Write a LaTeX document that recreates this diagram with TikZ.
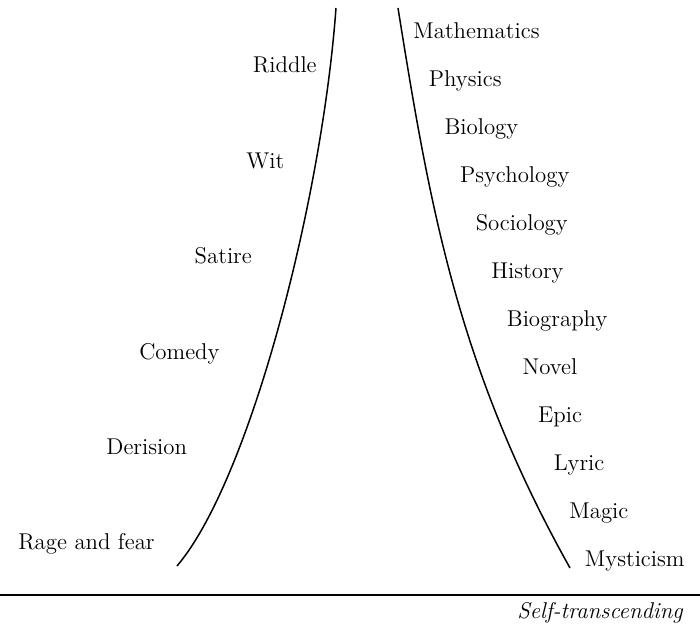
\documentclass[tikz,border=0pt]{standalone}
\usepackage{tikz}
\usetikzlibrary{positioning,calc}

\begin{document}
\begin{tikzpicture}[x=0.02cm, y=-0.02cm, font=\fontsize{13}{15}\selectfont]
\useasboundingbox (0,0) rectangle (700,634);
\coordinate (lb) at (177,566);
\coordinate (lt) at (336,8);
\coordinate (rt) at (398,8);
\coordinate (rb) at (570,568);
\draw[line width=0.85pt] (lb) .. controls (250,480) and (322,200) .. (lt);
\draw[line width=0.85pt] (rt) .. controls (430,208) and (458,368) .. (rb);
% left column
\foreach \txt [count=\i from 0] in {Riddle, Wit, Satire, Comedy, Derision, Rage and fear}
  \node[anchor=base east, inner sep=0pt] (l\i) at ({317-32.4*\i},{73+95.4*\i}) {\txt};
% right column
\foreach \txt [count=\i from 0] in {Mathematics, Physics, Biology, Psychology, Sociology, History, Biography, Novel, Epic, Lyric, Magic, Mysticism}
  \node[anchor=base west, inner sep=0pt] (r\i) at ({413+15.6*\i},{39+48*\i}) {\txt};
\coordinate (hl) at (0,595);
\coordinate (hr) at (700,595);
\draw[line width=1pt] (hl) -- (hr);
\node[anchor=base east, inner sep=0pt, font=\fontsize{13}{15}\selectfont\itshape] (st) at (683,619) {Self-transcending};
\end{tikzpicture}
\end{document}
